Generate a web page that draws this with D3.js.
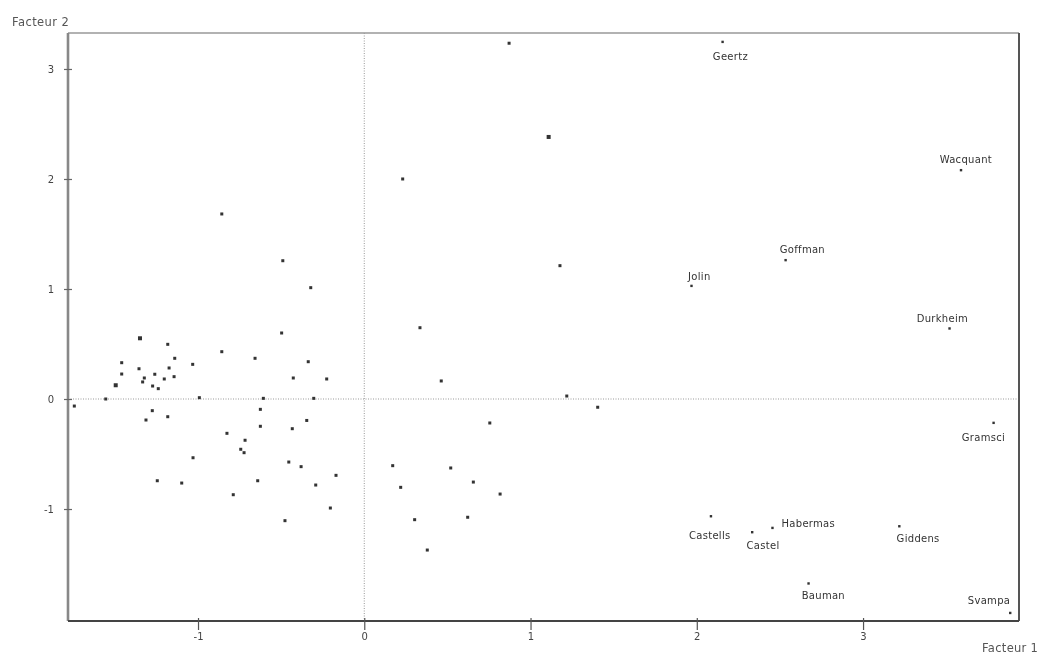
<!DOCTYPE html>
<html>
<head>
<meta charset="utf-8">
<script src="https://cdn.jsdelivr.net/npm/d3@7"></script>
<style>
  html, body { margin: 0; padding: 0; background: #fff; }
  svg { display: block; filter: blur(0.35px); }
  text { font-family: "DejaVu Sans", "Liberation Sans", sans-serif; fill: #333; }
</style>
</head>
<body>
<svg id="chart" width="1045" height="655"></svg>
<script>
// factor coordinates of the unlabelled points (Facteur 1, Facteur 2)
var pointsX = [-0.857, -0.49, -0.322, -1.349, -1.182, -0.497, -0.857, -0.657, -1.14, -1.459,
    -1.032, -0.337, -1.355, -1.174, -1.459, -1.26, -1.144, -1.323, -1.203, -1.333,
    -0.427, -0.226, -1.495, -1.273, -1.239, -1.555, -0.992, -0.607, -0.304, -1.744,
    -1.275, -0.625, -1.182, -1.313, -0.346, -0.625, -0.433, -0.826, -0.717, -0.743,
    -0.723, -1.03, -0.454, -0.38, -0.17, -1.245, -1.098, -0.641, -0.292, -0.788,
    -0.204, -0.477,
    0.871, 1.109, 0.231, 1.177, 0.335, 0.463, 1.218, 1.404, 0.755, 0.171,
    0.52, 0.219, 0.656, 0.817, 0.303, 0.622, 0.379];
var pointsY = [1.682, 1.257, 1.012, 0.552, 0.497, 0.6, 0.43, 0.37, 0.37, 0.33,
    0.315, 0.339, 0.275, 0.282, 0.227, 0.225, 0.203, 0.191, 0.182, 0.155,
    0.191, 0.182, 0.125, 0.118, 0.094, 0.0, 0.012, 0.006, 0.006, -0.064,
    -0.106, -0.094, -0.161, -0.191, -0.195, -0.248, -0.27, -0.312, -0.375, -0.457,
    -0.488, -0.534, -0.573, -0.615, -0.694, -0.743, -0.764, -0.743, -0.782, -0.87,
    -0.991, -1.106,
    3.234, 2.382, 2.0, 1.212, 0.648, 0.164, 0.027, -0.075, -0.218, -0.606,
    -0.627, -0.803, -0.755, -0.864, -1.097, -1.075, -1.373];
// a few points look heavier in the picture
var bigPoints = [3, 22, 53];

// labelled authors
var authors = ['Geertz', 'Wacquant', 'Goffman', 'Jolin', 'Durkheim', 'Gramsci',
    'Castells', 'Castel', 'Habermas', 'Giddens', 'Bauman', 'Svampa'];
var authorsX = [2.154, 3.588, 2.533, 1.967, 3.519, 3.784, 2.084, 2.332, 2.454, 3.217, 2.671, 3.884];
var authorsY = [3.248, 2.082, 1.264, 1.03, 0.643, -0.215, -1.064, -1.209, -1.17, -1.155, -1.675, -1.943];

var xTicks = [-1, 0, 1, 2, 3];
var yTicks = [-1, 0, 1, 2, 3];

// label placement relative to its point (px)
var labelOffsets = {
    Geertz: [8, 18], Wacquant: [5, -7], Goffman: [17, -7], Jolin: [8, -6],
    Durkheim: [-7, -6], Gramsci: [-10, 18], Castells: [-1, 23], Castel: [11, 17],
    Habermas: [36, -1], Giddens: [19, 16], Bauman: [15, 16], Svampa: [-21, -9]
};

var svg = d3.select('#chart');

var frame = {l: 68, r: 1019, t: 33, b: 621};

var x = d3.scaleLinear()
    .domain([-1.782, 3.938])
    .range([frame.l, frame.r]);

var y = d3.scaleLinear()
    .domain([-2.018, 3.327])
    .range([frame.b, frame.t]);

// dotted zero lines
svg.append('line')
    .attr('x1', x(0)).attr('x2', x(0))
    .attr('y1', frame.t).attr('y2', frame.b)
    .attr('stroke', '#999').attr('stroke-width', 1)
    .attr('stroke-dasharray', '1,1.5');

svg.append('line')
    .attr('x1', frame.l).attr('x2', frame.r)
    .attr('y1', y(0)).attr('y2', y(0))
    .attr('stroke', '#999').attr('stroke-width', 1)
    .attr('stroke-dasharray', '1,1.5');

// frame: left/top lighter, right/bottom darker
svg.append('line')
    .attr('x1', frame.l).attr('x2', frame.r)
    .attr('y1', frame.t).attr('y2', frame.t)
    .attr('stroke', '#999').attr('stroke-width', 1.6);
svg.append('line')
    .attr('x1', frame.r).attr('x2', frame.r)
    .attr('y1', frame.t).attr('y2', frame.b)
    .attr('stroke', '#555').attr('stroke-width', 2);

// axes
var yAxis = d3.axisLeft(y)
    .tickValues(yTicks)
    .tickSize(4)
    .tickPadding(10)
    .tickFormat(String);

var gy = svg.append('g')
    .attr('transform', 'translate(' + frame.l + ',0)')
    .call(yAxis);

gy.select('.domain')
    .attr('stroke', '#888').attr('stroke-width', 2.6);
gy.selectAll('.tick line')
    .attr('x1', 4).attr('x2', -4)
    .attr('stroke', '#666').attr('stroke-width', 1.2);
gy.selectAll('.tick text')
    .style('font-size', '10px')
    .style('fill', '#444')
    .attr('font-family', null);

var xAxis = d3.axisBottom(x)
    .tickValues(xTicks)
    .tickSize(9)
    .tickPadding(3)
    .tickFormat(String);

var gx = svg.append('g')
    .attr('transform', 'translate(0,' + frame.b + ')')
    .call(xAxis);

gx.select('.domain')
    .attr('stroke', '#444').attr('stroke-width', 2.2);
gx.selectAll('.tick line')
    .attr('y1', -3).attr('y2', 9)
    .attr('stroke', '#555').attr('stroke-width', 1.2);
gx.selectAll('.tick text')
    .style('font-size', '10px')
    .style('fill', '#444')
    .attr('font-family', null);

// drop the outer end ticks d3 puts on the domain path
gy.select('.domain').attr('d', 'M0,' + frame.t + 'V' + frame.b);
gx.select('.domain').attr('d', 'M' + frame.l + ',0H' + frame.r);

// axis titles
svg.append('text')
    .attr('x', 12).attr('y', 26)
    .style('font-size', '11.5px')
    .style('letter-spacing', '0.4px')
    .style('fill', '#555')
    .text('Facteur 2');

svg.append('text')
    .attr('x', 982).attr('y', 652)
    .style('font-size', '11.5px')
    .style('letter-spacing', '0.3px')
    .style('fill', '#555')
    .text('Facteur 1');

// unlabelled points
var pts = pointsX.map(function(v, i) {
    return {x: v, y: pointsY[i], big: bigPoints.indexOf(i) >= 0};
});

svg.append('g').selectAll('rect')
    .data(pts)
    .enter().append('rect')
    .attr('x', function(d) { return x(d.x) - (d.big ? 2 : 1.5); })
    .attr('y', function(d) { return y(d.y) - (d.big ? 2 : 1.5); })
    .attr('width', function(d) { return d.big ? 4 : 3; })
    .attr('height', function(d) { return d.big ? 4 : 3; })
    .attr('fill', '#333');

// labelled authors
var named = authors.map(function(n, i) {
    return {name: n, x: authorsX[i], y: authorsY[i]};
});

var ag = svg.append('g').selectAll('g')
    .data(named)
    .enter().append('g')
    .attr('transform', function(d) {
        return 'translate(' + x(d.x) + ',' + y(d.y) + ')';
    });

ag.append('rect')
    .attr('x', -1).attr('y', -1)
    .attr('width', 2.4).attr('height', 2.4)
    .attr('fill', '#333');

ag.append('text')
    .attr('x', function(d) { return labelOffsets[d.name][0]; })
    .attr('y', function(d) { return labelOffsets[d.name][1]; })
    .attr('text-anchor', 'middle')
    .style('font-size', '10px')
    .style('letter-spacing', '0.3px')
    .style('fill', '#333')
    .text(function(d) { return d.name; });
</script>
</body>
</html>
